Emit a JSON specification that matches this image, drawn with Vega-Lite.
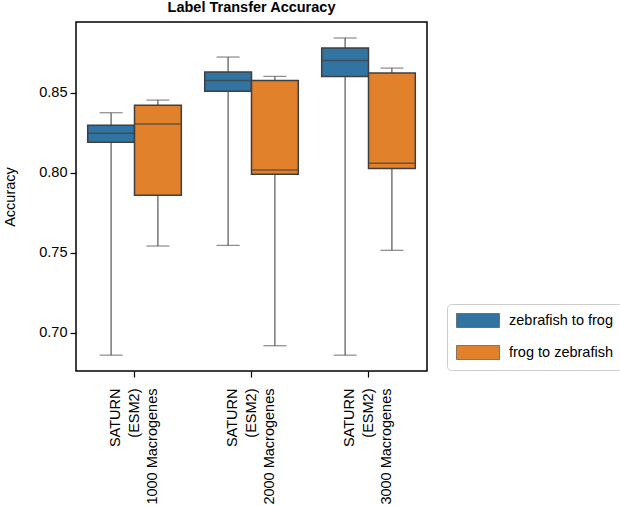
{
  "$schema": "https://vega.github.io/schema/vega-lite/v6.json",
  "autosize": "none",
  "padding": {"left": 76, "top": 22, "right": 193, "bottom": 135},
  "width": 351,
  "height": 349,
  "title": {"text": "Label Transfer Accuracy", "fontSize": 14.5, "fontWeight": "bold", "font": "Liberation Sans", "color": "#000000", "anchor": "middle", "offset": 7},
  "config": {
    "view": {"stroke": "#000000", "strokeWidth": 1.5},
    "font": "Liberation Sans",
    "axis": {"labelFont": "Liberation Sans", "titleFont": "Liberation Sans", "labelColor": "#000000", "titleColor": "#000000", "tickColor": "#000000", "domain": false, "grid": false, "tickSize": 6, "tickWidth": 1.2, "labelFontSize": 14.5, "titleFontSize": 14.5, "titleFontWeight": "normal"}
  },
  "data": {"values": [
    {"group": "SATURN|(ESM2)|1000 Macrogenes", "dir": "zebrafish to frog", "lower": 0.686, "q1": 0.819, "median": 0.8246, "q3": 0.8296, "upper": 0.8375},
    {"group": "SATURN|(ESM2)|1000 Macrogenes", "dir": "frog to zebrafish", "lower": 0.7542, "q1": 0.7859, "median": 0.8304, "q3": 0.8421, "upper": 0.8454},
    {"group": "SATURN|(ESM2)|2000 Macrogenes", "dir": "zebrafish to frog", "lower": 0.7546, "q1": 0.8509, "median": 0.8577, "q3": 0.8629, "upper": 0.8723},
    {"group": "SATURN|(ESM2)|2000 Macrogenes", "dir": "frog to zebrafish", "lower": 0.6919, "q1": 0.799, "median": 0.8017, "q3": 0.8577, "upper": 0.8602},
    {"group": "SATURN|(ESM2)|3000 Macrogenes", "dir": "zebrafish to frog", "lower": 0.686, "q1": 0.8602, "median": 0.8702, "q3": 0.8779, "upper": 0.8842},
    {"group": "SATURN|(ESM2)|3000 Macrogenes", "dir": "frog to zebrafish", "lower": 0.7515, "q1": 0.8027, "median": 0.8059, "q3": 0.8623, "upper": 0.8654}
  ]},
  "encoding": {
    "x": {"field": "group", "type": "nominal", "sort": null, "scale": {"paddingInner": 0, "paddingOuter": 0},
      "axis": {"title": null, "labelAngle": -90, "labelExpr": "split(datum.label, '|')", "labelLineHeight": 18.5, "labelPadding": 11, "labelOffset": -18.5}},
    "xOffset": {"field": "dir", "type": "nominal", "sort": ["zebrafish to frog", "frog to zebrafish"], "scale": {"domain": ["zebrafish to frog", "frog to zebrafish"], "paddingInner": 0, "paddingOuter": 0.25}}
  },
  "layer": [
    {
      "mark": {"type": "rule", "color": "#5c5c5c", "strokeWidth": 1.25},
      "encoding": {
        "y": {"field": "lower", "type": "quantitative", "scale": {"domain": [0.6761, 0.8942], "nice": false, "zero": false},
          "axis": {"title": "Accuracy", "values": [0.7, 0.75, 0.8, 0.85], "format": ".2f", "labelPadding": 3, "titlePadding": 21}},
        "y2": {"field": "upper"}
      }
    },
    {
      "mark": {"type": "tick", "color": "#5c5c5c", "size": 23, "thickness": 1.25},
      "encoding": {"y": {"field": "lower", "type": "quantitative"}}
    },
    {
      "mark": {"type": "tick", "color": "#5c5c5c", "size": 23, "thickness": 1.25},
      "encoding": {"y": {"field": "upper", "type": "quantitative"}}
    },
    {
      "mark": {"type": "bar", "stroke": "#3f3f3f", "strokeWidth": 1.5},
      "encoding": {
        "y": {"field": "q1", "type": "quantitative"},
        "y2": {"field": "q3"},
        "color": {"field": "dir", "type": "nominal", "scale": {"domain": ["zebrafish to frog", "frog to zebrafish"], "range": ["#3274A1", "#E1812C"]},
          "legend": {"title": null, "orient": "none", "legendX": 371, "legendY": 282, "padding": 9, "strokeColor": "#cccccc", "fillColor": "#ffffff", "cornerRadius": 4,
            "symbolType": "M-1,-1L5.14,-1L5.14,1L-1,1Z", "symbolSize": 196, "symbolStrokeColor": "#3f3f3f", "symbolStrokeWidth": 0.6, "symbolOpacity": 1,
            "labelFontSize": 14.5, "labelFont": "Liberation Sans", "labelColor": "#000000", "labelOffset": 38, "rowPadding": 15}}
      }
    },
    {
      "mark": {"type": "tick", "color": "#3f3f3f", "size": 46, "thickness": 1.5},
      "encoding": {"y": {"field": "median", "type": "quantitative"}}
    }
  ]
}
